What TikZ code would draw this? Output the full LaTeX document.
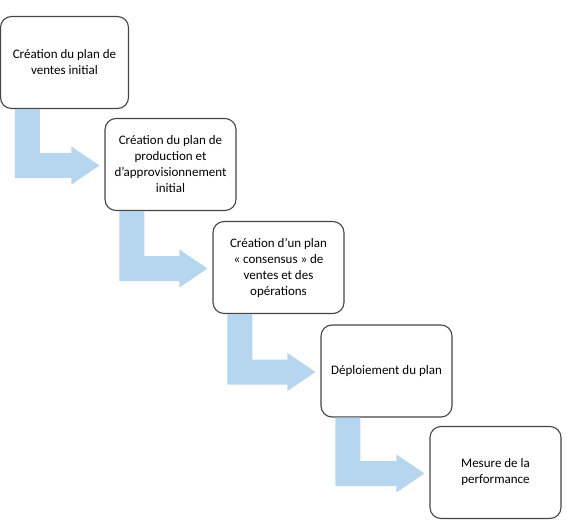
\documentclass[tikz,border=0pt]{standalone}
\usepackage{fontspec}
\setmainfont{Carlito}
\usetikzlibrary{calc}
\definecolor{arrowblue}{RGB}{182,213,238}
\definecolor{boxline}{RGB}{70,70,70}
\tikzset{
  stepbox/.style={draw=boxline, line width=1.1pt, rounded corners=11pt, fill=white,
    minimum width=131pt, minimum height=92pt, align=center, inner sep=2pt,
    font=\fontsize{13}{16}\selectfont, text=black},
  bentarrow/.style={fill=arrowblue, draw=none}
}
\newcommand{\stepArrow}[2]{%
  \fill[bentarrow] let \p1=(#1.south west), \p2=(#2.west) in
    (\x1+15pt,\y1) -- (\x1+40pt,\y1) -- (\x1+40pt,\y2+11.5pt)
    -- (\x2-33pt,\y2+11.5pt) -- (\x2-33pt,\y2+18pt) -- (\x2-5pt,\y2-1pt)
    -- (\x2-33pt,\y2-20pt) -- (\x2-33pt,\y2-13.5pt) -- (\x1+15pt,\y2-13.5pt) -- cycle;}
\begin{document}
\begin{tikzpicture}[x=1pt,y=-1pt]
\useasboundingbox (0,0) rectangle (567,529);
\node[stepbox, minimum width=128pt] (b1) at (64.5,62.5) {Création du plan de\\ventes initial};
\node[stepbox] (b2) at (170.5,164.5) {Création du plan de\\production et\\d’approvisionnement\\initial};
\node[stepbox] (b3) at (278.5,267.5) {Création d’un plan\\« consensus » de\\ventes et des\\opérations};
\node[stepbox] (b4) at (386.5,371) {Déploiement du plan};
\node[stepbox] (b5) at (495.5,472.5) {Mesure de la\\performance};
\stepArrow{b1}{b2}
\stepArrow{b2}{b3}
\stepArrow{b3}{b4}
\stepArrow{b4}{b5}
\end{tikzpicture}
\end{document}
